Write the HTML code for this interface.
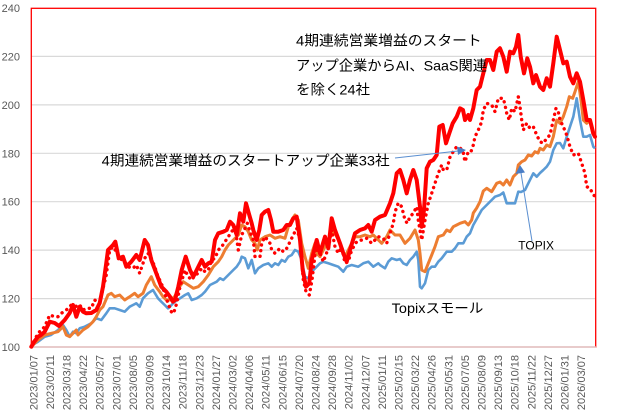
<!DOCTYPE html>
<html><head><meta charset="utf-8"><style>
html,body{margin:0;padding:0;background:#fff;}
svg{display:block;}
</style></head><body>
<svg width="617" height="415" viewBox="0 0 617 415" xmlns="http://www.w3.org/2000/svg">
<rect width="617" height="415" fill="#fff"/>
<g stroke="#D9D9D9" stroke-width="1.2">
<line x1="31" y1="56.4" x2="596" y2="56.4"/>
<line x1="31" y1="104.9" x2="596" y2="104.9"/>
<line x1="31" y1="153.3" x2="596" y2="153.3"/>
<line x1="31" y1="201.7" x2="596" y2="201.7"/>
<line x1="31" y1="250.1" x2="596" y2="250.1"/>
<line x1="31" y1="298.6" x2="596" y2="298.6"/>
</g>
<rect x="31.3" y="8.3" width="564.4" height="338.7" fill="none" stroke="#FF0000" stroke-width="1.3"/>
<line x1="31" y1="347" x2="596" y2="347" stroke="#D9D9D9" stroke-width="1.3"/>
<g font-family="'Liberation Sans', sans-serif" font-size="11" fill="#595959" text-anchor="end">
<text x="20" y="12">240</text>
<text x="20" y="60.4">220</text>
<text x="20" y="108.9">200</text>
<text x="20" y="157.3">180</text>
<text x="20" y="205.7">160</text>
<text x="20" y="254.1">140</text>
<text x="20" y="302.6">120</text>
<text x="20" y="351">100</text>
</g>
<g font-family="'Liberation Sans', sans-serif" font-size="11" fill="#595959" text-anchor="end">
<text transform="translate(37.3,355) rotate(-90)">2023/01/07</text>
<text transform="translate(53.9,355) rotate(-90)">2023/02/11</text>
<text transform="translate(70.5,355) rotate(-90)">2023/03/18</text>
<text transform="translate(87.1,355) rotate(-90)">2023/04/22</text>
<text transform="translate(103.7,355) rotate(-90)">2023/05/27</text>
<text transform="translate(120.3,355) rotate(-90)">2023/07/01</text>
<text transform="translate(136.9,355) rotate(-90)">2023/08/05</text>
<text transform="translate(153.5,355) rotate(-90)">2023/09/09</text>
<text transform="translate(170.1,355) rotate(-90)">2023/10/14</text>
<text transform="translate(186.7,355) rotate(-90)">2023/11/18</text>
<text transform="translate(203.3,355) rotate(-90)">2023/12/23</text>
<text transform="translate(219.9,355) rotate(-90)">2024/01/27</text>
<text transform="translate(236.5,355) rotate(-90)">2024/03/02</text>
<text transform="translate(253.1,355) rotate(-90)">2024/04/06</text>
<text transform="translate(269.7,355) rotate(-90)">2024/05/11</text>
<text transform="translate(286.3,355) rotate(-90)">2024/06/15</text>
<text transform="translate(302.9,355) rotate(-90)">2024/07/20</text>
<text transform="translate(319.5,355) rotate(-90)">2024/08/24</text>
<text transform="translate(336.1,355) rotate(-90)">2024/09/28</text>
<text transform="translate(352.7,355) rotate(-90)">2024/11/02</text>
<text transform="translate(369.3,355) rotate(-90)">2024/12/07</text>
<text transform="translate(385.9,355) rotate(-90)">2025/01/11</text>
<text transform="translate(402.5,355) rotate(-90)">2025/02/15</text>
<text transform="translate(419.1,355) rotate(-90)">2025/03/22</text>
<text transform="translate(435.7,355) rotate(-90)">2025/04/26</text>
<text transform="translate(452.3,355) rotate(-90)">2025/05/31</text>
<text transform="translate(468.9,355) rotate(-90)">2025/07/05</text>
<text transform="translate(485.5,355) rotate(-90)">2025/08/09</text>
<text transform="translate(502.1,355) rotate(-90)">2025/09/13</text>
<text transform="translate(518.7,355) rotate(-90)">2025/10/18</text>
<text transform="translate(535.3,355) rotate(-90)">2025/11/22</text>
<text transform="translate(551.9,355) rotate(-90)">2025/12/27</text>
<text transform="translate(568.5,355) rotate(-90)">2026/01/31</text>
<text transform="translate(585.1,355) rotate(-90)">2026/03/07</text>
</g>
<!-- Blue -->
<polyline fill="none" stroke="#5B9BD5" stroke-width="2.6" stroke-linejoin="round" points="31.3,346.7 34,344 38,341.7 44.7,336.7 51,335 58,330 63,325 66.3,330 69.7,336.7 73,331.7 76.3,333.3 79.7,328.3 84.7,326.7 91.3,323.3 96.3,318.3 101.3,320 106.3,313.3 109.7,308.3 114.7,308.3 119.7,310 124.7,311.7 129.7,306.7 133,305 136.3,303.3 139.7,306.7 143,298.3 148,293.3 153,290 158,298.3 161.3,301.7 164.7,305 168,308.3 170,306.7 173,303.3 175,301.7 180,298.3 185,295 188.3,293.3 191.7,300 196.7,298.3 201.7,295 205,291.7 210,285 216.7,281.7 220,278.3 223.3,280 228.3,275 233.3,270 236.7,266.7 240,261.7 241.7,256.7 245,258.3 248.3,268.3 251.7,260 255,273.3 258.3,268.3 263.3,265 268.3,263.3 271.7,266.7 275,263.3 278.3,265 281.7,260 285,261.7 288.3,256.7 291.7,255 295,250 298.3,251.7 301.7,260 305,276.7 308.3,278.3 311.7,271.7 316.7,266.7 320,263.3 323.3,261.7 328.3,263.3 333.3,265 338.3,266.7 343.3,271.7 346.7,266.7 351.7,265 358.3,266.7 363.3,263.3 368.3,261.7 373.3,266.7 378.3,263.3 380,265 385,268.3 388.3,261.7 391.7,258.3 396.7,260 400,259 403.3,263.3 406.7,265 410,260 413.3,256.7 416.7,251.7 418.3,260 420,286.7 421.7,288.3 425,283.3 428.3,270 431.7,266.7 435,266.7 438.3,261.7 441.7,258.3 446.7,251.7 451.7,251.7 455,248.3 458.3,243.3 463.3,243.3 466.7,236.7 470,233.3 473.3,225 476.7,219 481.7,210 486.7,205 491.7,200 495,196.7 500,195 503.3,192.5 506.7,203.3 511.7,203.3 515,203.3 518.3,191.7 521,192 525,190 528.3,183.3 533.3,173.3 536.7,176.7 540,173 543.3,170 546.7,166.7 550,161.7 553.3,150 556.7,143.3 560,143 563.3,148.3 566.7,136.7 570,126.7 573.3,116.7 576.7,98.3 580,120 583.3,136.7 586.7,136.7 590,135 593.3,146.7 595,148.3"/>
<!-- Orange -->
<polyline fill="none" stroke="#ED7D31" stroke-width="3" stroke-linejoin="round" points="31.3,346.7 38,340 44.7,335 51.3,333.3 58,331.7 63,326.7 66.3,335 69.7,336.7 73,333.3 76.3,330 78,335 83,330 88,326.7 93,321.7 96.3,316.7 99.7,310 103,306.7 108,295 111.3,293.3 114.7,296.7 119.7,295 124.7,300 129.7,296.7 134.7,293.3 138,296.7 143,293.3 146.3,285 151.3,276.7 154.7,285 159.7,291.7 163,296.7 166.3,300 171.3,300 175,296 178.3,288.3 183.3,281.7 188.3,285 193.3,288.3 198.3,286.7 203.3,281.7 208.3,275 213.3,266.7 218.3,261.7 221.7,256.7 225,250 228.3,245 233.3,240 238.3,235 241.7,225 245,226.7 248.3,231.7 251.7,240 255,243.3 257.3,250 260,240 265,236.7 270,235 275,238.3 280,236.7 285,238.3 288.3,226.7 291.7,220 295,215 298.3,220 301.7,243.3 305,256.7 308.3,268.3 311.7,253.3 315,243.3 316.7,253.3 320,256.7 325,246.7 330,236.7 333.3,230 338.3,240 341.7,250 345,256.7 350,246.7 355,236.7 360,236.7 365,235 370,236.7 373.3,235 376.7,238.3 381.7,243.3 386.7,236.7 390,230 395,235 400,235 405,243.3 410,238.3 415,230 418.3,240 420,253.3 421.7,270 425,271.7 428.3,263.3 431.7,255 435,246.7 438.3,236.7 443.3,235 446.7,230 450,231.7 453.3,226.7 456.7,225 460,223.3 465,221.7 468.3,225 471.7,220 473.3,213 476.7,208 480,201.7 483.3,191 486.7,188.3 491.7,191.7 496.7,183.3 500,182 503.3,185 506.7,180 510,185 513.3,176.7 516.7,173.3 518.3,165 521.7,161.7 525,160 528.3,155 531.7,156 535,151.7 538,153 540,148.3 543.3,150 546.7,145 550,146.7 553.3,136.7 556.7,120 560,123.3 563.3,116.7 566.7,106.7 569.3,96.7 572.7,98.3 575,91.7 578.3,81.7 581,100 583.3,120 586.7,123.3 590,120 592.7,133.3 595,135"/>
<!-- Red dotted -->
<polyline fill="none" stroke="#FF0000" stroke-width="3.4" stroke-linecap="round" stroke-dasharray="0.1 5.6" stroke-linejoin="round" points="31.3,346.7 38,333.3 44.7,326.7 49.7,315 54.7,316.7 58,316.7 61.3,313.3 66.3,310 71.3,305 78,306.7 79.7,305 83,310 86.3,308.3 91.3,308.3 94.7,300 99.7,303.3 103,288 106,276.7 109.7,250 113,246.7 116.3,251.7 119.7,258.3 124.7,261.7 128,266.7 133,268.3 136.3,265 139.7,273.3 141.3,268.3 144.7,258.3 148,253.3 151.3,258.3 154.7,266.7 158,276.7 161.3,283.3 164.7,293.3 168,303.3 171.3,311.7 173.5,313.5 176.7,303.3 180,286.7 185,270 188.3,276.7 191.7,280 195,275 198.3,273.3 201.7,268.3 205,271.7 208.3,270 211.7,260 215,258.3 218.3,250 221.7,246.7 225,241.7 228.3,236.7 231.7,231.7 235,226.7 238.3,250 241.7,235 245,228.3 247.3,223.3 250,231.7 253.3,240 255,256.7 260,256.7 261.7,243.3 265,236.7 270,243.3 271.7,250 275,253.3 280,248.3 283.3,251.7 286.7,248.3 290,241.7 293.3,235 296.7,228.3 300,240 303.3,280 306,291.7 309.3,295 312,280 315,255 318,247 320,253.3 323.3,261.7 328.3,248.3 331.7,230 335,246.7 338.3,253.3 341.7,246.7 345,263.3 348.3,261.7 351.7,250 356.7,241.7 361.7,240 366.7,238.3 371.7,243.3 375,240 378.3,236.7 383.3,238.3 386.7,243.3 390,233.3 393.3,223.3 395,212 398.3,203 401.7,206.7 405,220 407.3,223.3 410,216.7 413.3,213.3 416.7,206.7 418.3,220 421.7,240 425,220 428.3,203.3 431.7,193.3 435,183.3 438.3,173.3 441.7,165 443.3,170 446.7,170 450,157 453,152 456.7,146.7 460,148 463,151 465,161.7 468.3,151.7 471,151.7 473.3,145 475,136.7 478.3,130 481.7,121.7 483.3,110 486.7,103.3 491.7,105 495,111.7 498.3,98.3 503.3,98.3 505,105 506.7,113.3 509.3,120 511.7,108.3 515,111.7 518.3,96.7 520,106.7 521.7,120 523.3,130 526.7,123.3 530,128.3 533.3,126.7 536.7,135 540,141.7 543.3,143.3 546.7,138.3 550,135 553.3,120 556,108.3 558.3,111.7 560,120 563.3,126.7 566.7,135 570,146.7 573.3,155 578.3,153.3 581.7,163.3 585,173.3 586.7,186.7 590,188.3 593.3,195 595,196"/>
<!-- Red thick -->
<polyline fill="none" stroke="#FF0000" stroke-width="4" stroke-linejoin="round" stroke-linecap="round" points="31.3,346.7 34,342 38,336.7 41,335 44.7,331.7 49.7,321.7 54.7,323 59,326 64.7,320 69.7,313 73,305 76.3,316.7 79.7,306.7 83,311.7 86.3,313.3 91.3,313 96.3,310 99.7,303 103,286.7 106,265 108,250 113,245 115.3,241.7 118.7,258.3 123,256.7 126.3,266.7 131.3,261.7 136.3,255 139.7,260 144.7,240 148,245 151.3,260 156.3,273.3 161.3,286.7 166.3,291.7 170,296.7 173,301.7 175,300 178.3,286.7 181.7,270 185.7,256.7 190,270 193.3,276.7 196.7,270 201.7,260 205,266.7 208.3,263.3 211.7,261.7 215,240 218.3,233.3 223.3,231.7 226.7,230 230,221.7 233.3,225 236.7,235 240,213.3 243.3,221.7 246,203.3 249.3,215 251.7,223.3 253.3,230 256.7,240 259.3,230 261.7,215 265,211.7 268.3,210 271,220 273.3,231.7 278.3,231.7 283.3,230 286.7,225 290,225 293.3,218.3 296.7,216.7 300,240 302.7,270 306,286.7 309.3,283.3 311.7,260 315,246.7 316.7,240 320,253.3 325,236.7 328.3,248.3 331.7,218.3 335,230 340,243.3 343.3,253.3 346.7,261.7 350,250 355,233.3 360,230 365,228.3 368.3,225 371.7,231.7 375,220 380,216.7 385,215 390,203.3 393.3,193.3 396.7,173.3 400,170 403.3,180 406.7,193.3 410,180 413.3,170 416.7,180 420,206.7 421.7,226.7 424,210 426.7,168.3 430,161.7 433.3,160 436.7,155 439.3,126.7 442.7,125 446,143.3 449.3,133.3 452.7,123.3 456.7,116.7 460,108.3 463,110 465,120 468.3,115 470,120 473.3,108.3 476.7,90 480,86.7 483.3,73.3 486.7,60 490,60 493.3,70 496.7,51.7 500,48.3 503.3,56.7 506.7,71.7 510,51.7 513.3,53.3 516,46.7 518.3,35 520.7,56.7 524,73.3 527.3,58.3 530,66.7 533.3,83.3 536,75 540,86.7 543.3,90 546.7,78.3 550,86.7 553.3,63.3 556.7,36.7 560,50 563.3,63.3 566.7,61.7 570,76.7 573.3,83.3 576.7,73.3 580,81.7 583.3,100 586.7,120 590,120 593.3,133.3 595,136.7"/>
<!-- annotations -->
<g stroke="#5B8FD0" stroke-width="1" fill="none">
<line x1="395" y1="158" x2="458" y2="151"/>
<line x1="532" y1="241" x2="521" y2="173"/>
</g>
<polygon points="466,150 457,146.5 458,155" fill="#4A7EC6"/>
<polygon points="520,165 515.5,174 525,172.5" fill="#4A7EC6"/>
<g font-family="'Liberation Sans', 'Noto Sans CJK JP', sans-serif" fill="#000">
<text x="296" y="45.5" font-size="14" textLength="185.7" lengthAdjust="spacingAndGlyphs">4期連続営業増益のスタート</text>
<text x="296" y="70.5" font-size="14" textLength="191" lengthAdjust="spacingAndGlyphs">アップ企業からAI、SaaS関連</text>
<text x="296" y="94.5" font-size="14" textLength="74" lengthAdjust="spacingAndGlyphs">を除く24社</text>
<text x="101.7" y="165.5" font-size="14" textLength="288" lengthAdjust="spacingAndGlyphs">4期連続営業増益のスタートアップ企業33社</text>
<text x="518.3" y="249.5" font-size="12" textLength="35.7" lengthAdjust="spacingAndGlyphs">TOPIX</text>
<text x="391.7" y="312.8" font-size="13.5" textLength="91.6" lengthAdjust="spacingAndGlyphs">Topixスモール</text>
</g>
</svg>
</body></html>
